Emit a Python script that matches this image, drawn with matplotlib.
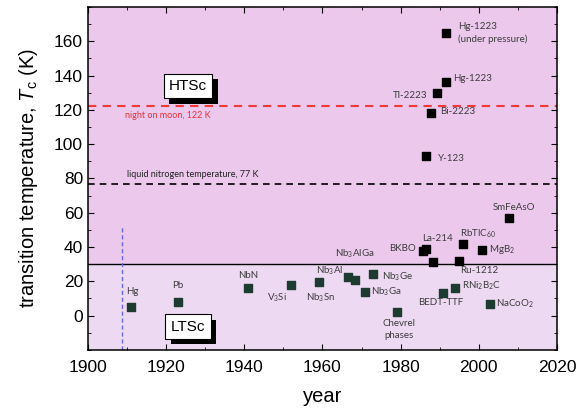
import matplotlib
matplotlib.use("Agg")
import matplotlib.pyplot as plt
import matplotlib.patheffects as pe
from matplotlib.ticker import MultipleLocator

# discovery year and critical temperature (K)
lts_years = [1911, 1923, 1941, 1952, 1959, 1966.6, 1968.3, 1970.8, 1973, 1979, 1990.9, 1993.8, 2002.8]
lts_tc = [5, 8, 16, 18, 19.5, 22.5, 20.5, 14, 24.5, 2, 13, 16, 6.5]

hts_years = [1985.6, 1986.4, 1988.3, 1994.9, 1996, 2000.7, 2007.8, 1986.4, 1987.9, 1989.2, 1991.6, 1991.7]
hts_tc = [37.5, 39, 31.5, 32, 42, 38.5, 57, 93, 118, 130, 136.5, 165]

moon_night = 122
liquid_n2 = 77
hts_border = 30
helium_liquefied = 1908.6

plt.rcParams['mathtext.fontset'] = 'custom'
plt.rcParams['mathtext.it'] = 'Liberation Sans:italic'
plt.rcParams['mathtext.rm'] = 'Liberation Sans'
plt.rcParams['mathtext.default'] = 'regular'

fig = plt.figure(figsize=(5.82, 4.13), dpi=100)
ax = fig.add_axes([0.151, 0.153, 0.806, 0.83])

ax.set_xlim(1900, 2020)
ax.set_ylim(-20, 180)

# background bands
ax.axhspan(hts_border, 180, color='#ecc9ec', zorder=0)
ax.axhspan(-20, hts_border, color='#eed9f3', zorder=0)
ax.axhline(hts_border, color='black', lw=1.0, zorder=1)

ax.axhline(moon_night, color='#f03a3a', lw=1.5, ls=(0, (4, 3)), zorder=1)
ax.axhline(liquid_n2, color='black', lw=1.2, ls=(0, (4, 3)), zorder=1)
ax.plot([helium_liquefied, helium_liquefied], [-20, 53], color='#6868e0', lw=1.0,
        ls=(0, (3, 2)), zorder=1)

ax.text(1909.5, 116.5, 'night on moon, 122 K', color='#e8303a', fontsize=6.5,
        fontfamily='Lato', va='center')
ax.text(1909.9, 82, 'liquid nitrogen temperature, 77 K', color='#222222', fontsize=6.5,
        fontfamily='Lato', va='center')

ax.scatter(lts_years, lts_tc, marker='s', s=34, color='#1e3b31', zorder=3)
ax.scatter(hts_years, hts_tc, marker='s', s=34, color='black', zorder=3)

labels = [
    ('Hg', 1911.4, 13.8, 'center'),
    ('Pb', 1923.1, 17.3, 'center'),
    ('NbN', 1941, 23.5, 'center'),
    (r'V$_3$Si', 1945.9, 10.5, 'left'),
    (r'Nb$_3$Sn', 1955.8, 10.2, 'left'),
    (r'Nb$_3$Al', 1958.3, 26, 'left'),
    (r'Nb$_3$AlGa', 1963.2, 36, 'left'),
    (r'Nb$_3$Ga', 1972.5, 13.8, 'left'),
    (r'Nb$_3$Ge', 1975.3, 22.9, 'left'),
    ('Chevrel\nphases', 1979.6, -8.2, 'center'),
    ('BEDT-TTF', 1984.5, 7.6, 'left'),
    (r'RNi$_2$B$_2$C', 1995.8, 17.3, 'left'),
    (r'NaCoO$_2$', 2004.5, 6.8, 'left'),
    ('Ru-1212', 1995.1, 26.3, 'left'),
    ('BKBO', 1984.0, 39.4, 'right'),
    ('La-214', 1985.6, 45.2, 'left'),
    (r'RbTlC$_{60}$', 1995.1, 47.7, 'left'),
    (r'MgB$_2$', 2002.5, 38.6, 'left'),
    ('SmFeAsO', 2003.5, 63.2, 'left'),
    ('Y-123', 1989.6, 91.7, 'left'),
    ('Bi-2223', 1990.2, 118.8, 'left'),
    ('Tl-2223', 1986.8, 128.5, 'right'),
    ('Hg-1223', 1993.4, 138.2, 'left'),
    ('Hg-1223\n(under pressure)', 1994.7, 164.7, 'left'),
]
for txt, x, y, ha in labels:
    ax.text(x, y, txt, fontsize=7, fontfamily='Lato', color='#3c3c3c',
            ha=ha, va='center', zorder=4, linespacing=1.4,
            multialignment='center' if ha == 'center' else 'left')

# region tags with a drop shadow
for tag, y in [('HTSc', 134), ('LTSc', -6.4)]:
    t = ax.text(1925.6, y, tag, fontsize=11, fontfamily='Liberation Sans', ha='center',
                va='center', zorder=5,
                bbox=dict(boxstyle='square,pad=0.35', fc='white', ec='black', lw=0.8))
    t.get_bbox_patch().set_path_effects([
        pe.SimplePatchShadow(offset=(4, -4), shadow_rgbFace='black', alpha=1.0),
        pe.Normal()])

ax.xaxis.set_major_locator(MultipleLocator(20))
ax.xaxis.set_minor_locator(MultipleLocator(10))
ax.yaxis.set_major_locator(MultipleLocator(20))
ax.yaxis.set_minor_locator(MultipleLocator(10))
ax.set_yticks(range(0, 161, 20))
ax.tick_params(which='both', direction='in', top=True, right=True)
ax.tick_params(which='major', length=4, labelsize=12.5)
ax.tick_params(axis='x', which='major', pad=7)
ax.tick_params(which='minor', length=2.5)
for lab in ax.get_xticklabels() + ax.get_yticklabels():
    lab.set_fontfamily('Liberation Sans')
for s in ax.spines.values():
    s.set_linewidth(1.1)

ax.set_xlabel('year', fontsize=14.5, fontfamily='Liberation Sans', labelpad=9)
ax.set_ylabel(r'transition temperature, $\mathit{T}_c$ (K)', fontsize=14.5,
              fontfamily='Liberation Sans', labelpad=10)

fig.savefig('out.png', dpi=100)
